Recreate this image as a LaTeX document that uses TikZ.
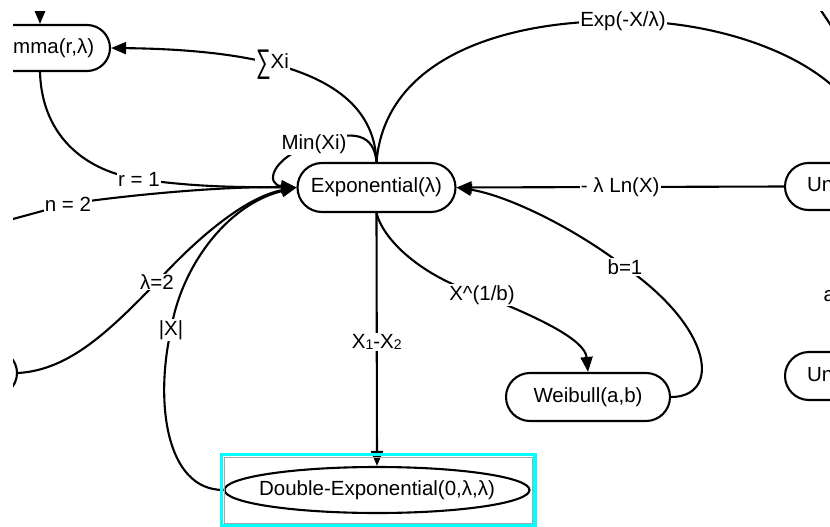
\documentclass[tikz,border=0pt]{standalone}
\usepackage{fontspec}
\setmainfont{Liberation Sans}
\usetikzlibrary{arrows.meta,shapes.misc,shapes.geometric}
\newcommand{\dsub}[1]{\raisebox{-1pt}{\fontsize{14}{14}\selectfont #1}}
\newcommand{\bigsum}{\raisebox{-4pt}{\scalebox{1}[1.6]{∑}}}
\begin{document}
\begin{tikzpicture}[x=1pt,y=-1pt,
  dist/.style={draw=black, line width=2.1pt, rounded rectangle, inner sep=0pt,
    font=\fontsize{20.5}{24}\selectfont},
  oval/.style={draw=black, line width=2.1pt, ellipse, inner sep=0pt,
    font=\fontsize{20.5}{24}\selectfont},
  lbl/.style={fill=white, inner sep=1pt, font=\fontsize{20.5}{24}\selectfont},
  link/.style={line width=2.1pt, draw=black},
  arrowed/.style={link, -{Triangle[length=15pt,width=12pt]}},
]
\useasboundingbox (0,0) rectangle (830,527);
\fill[white] (0,0) rectangle (830,527);
\begin{scope}
\clip (13,12) rectangle (830,527);

% distributions
\node[dist, minimum width=158pt, minimum height=49pt] (exp) at (376.5,187.5) {Exponential(λ)};
\node[dist, minimum width=140pt, minimum height=46pt] (gam) at (40,48) {Gamma(r,λ)};
\node[dist, minimum width=164pt, minimum height=48pt] (weib) at (588,397) {Weibull(a,b)};
\node[dist, minimum width=158pt, minimum height=47pt] (unif1) at (864,186.5) {Uniform(0,1)};
\node[dist, minimum width=158pt, minimum height=48pt] (unif2) at (864,376) {Uniform(a,b)};
\node[dist, minimum width=150pt, minimum height=46pt] (lnode) at (-58,373) {};
\node[oval, minimum width=305pt, minimum height=46pt] (dexp) at (377,490)
  {\makebox[0pt]{Double-Exponential(0,λ,λ)}};

\coordinate (gtop) at (40,-40);
\coordinate (nsrc) at (-20,228);
\coordinate (trA) at (810,-6);
\coordinate (trB) at (846,48);

% transformations
\draw[arrowed] (gtop) -- (gam.north);
\draw[link] (trA) -- (trB);

\draw[arrowed] (exp.north) .. controls (374,90) and (300,50) ..
  node[lbl, pos=0.64] {\bigsum Xi} (gam.east);

\draw[arrowed] (exp.north) .. controls (374,135) and (355,128) .. (314,144)
  node[lbl] {Min(Xi)} .. controls (270,158) and (265,185) .. (exp.west);

\draw[arrowed] (gam.south) .. controls (42,140) and (90,172) .. (139,179)
  node[lbl] {r = 1} .. controls (200,188) and (250,187) .. (exp.west);

\draw[arrowed] (nsrc) -- (68,204) node[lbl] {n = 2}
  .. controls (120,196) and (220,186) .. (exp.west);

\draw[arrowed] (lnode.east) .. controls (70,370) and (110,330) .. (157,282)
  node[lbl] {λ=2} .. controls (195,240) and (245,197) .. (exp.west);

\draw[arrowed] (dexp.west) .. controls (165,490) and (155,400) .. (171,330)
  node[lbl] {|X|} .. controls (180,270) and (225,205) .. (exp.west);

\draw[arrowed] (exp.south) -- node[lbl, pos=0.51] {X\dsub{1}-X\dsub{2}} (dexp.north);

\draw[arrowed] (exp.south) .. controls (385,245) and (430,280) .. (482,295)
  node[lbl] {X\^{}(1/b)} .. controls (540,318) and (585,340) .. (weib.north);

\draw[arrowed] (weib.east) .. controls (720,397) and (715,330) .. (625,267)
  node[lbl] {b=1} .. controls (570,225) and (505,195) .. (exp.east);

\draw[arrowed] (unif1.west) -- node[lbl] {- λ Ln(X)} (exp.east);

\draw[arrowed] (exp.north) .. controls (385,60) and (500,20) .. (623,21)
  node[lbl] {Exp(-X/λ)} .. controls (750,21) and (867,80) .. (unif1.north);

\draw[arrowed] (unif2.north) -- node[lbl, pos=0.4] {a=0, b=1} (unif1.south);

% selection frame
\draw[draw={rgb,255:red,0;green,255;blue,255}, line width=3.6pt]
  (221.3,454.5) rectangle (535,525.5);
\draw[draw=gray!70, line width=0.8pt] (224.5,457.5) rectangle (532.5,523);
\end{scope}
\end{tikzpicture}
\end{document}
